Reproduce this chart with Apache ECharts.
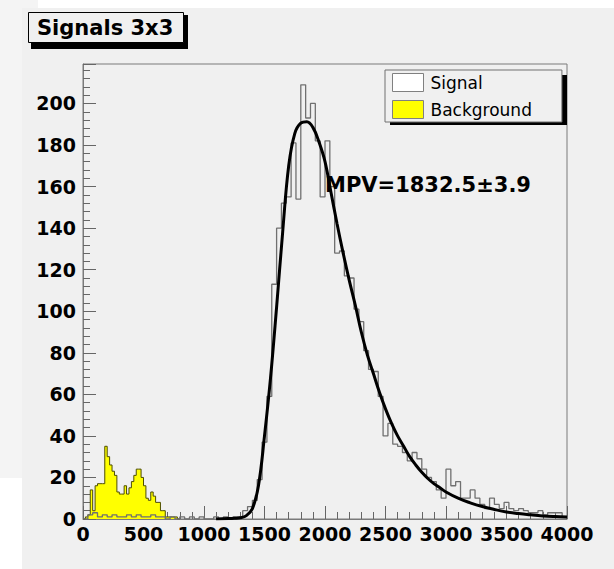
<!DOCTYPE html>
<html>
<head>
<meta charset="utf-8">
<script src="https://cdn.jsdelivr.net/npm/echarts@6/dist/echarts.min.js"></script>
<style>
  html, body { margin: 0; padding: 0; background: #ffffff; }
  #wrap { position: relative; width: 614px; height: 569px; overflow: hidden; background: #ffffff; }
  #leftStrip { position: absolute; left: 0; top: 0; width: 22px; height: 478px; background: #f4f4f4; }
  #topLeft { position: absolute; left: 0; top: 0; width: 38px; height: 8px; background: #f4f4f4; }
  #panel { position: absolute; left: 22px; top: 8px; width: 592px; height: 561px; background: #f0f0f0; }
  #chart { position: absolute; left: 0; top: 0; width: 614px; height: 569px; }
</style>
</head>
<body>
<div id="wrap">
  <div id="leftStrip"></div>
  <div id="topLeft"></div>
  <div id="panel"></div>
  <div id="chart"></div>
</div>
<script>
// ---- Data ----
const titleText = 'Signals 3x3';
const mpvText = 'MPV=1832.5\u00b13.9';
const seriesNames = ['Signal', 'Background'];

// Signal histogram: 40-unit bins starting at 0
const signalBinWidth = 40;
const signalCounts = [
  0, 2, 3, 1, 2, 1, 2, 1, 1, 2,
  1, 2, 1, 1, 2, 1, 1, 0, 1, 0,
  1, 0, 1, 0, 1, 0, 0, 1, 0, 1,
  0, 1, 1, 4, 6, 9, 19, 37, 59, 113,
  140, 152, 155, 181, 154, 209, 193, 200, 182, 155,
  182, 160, 128, 129, 117, 116, 101, 95, 81, 72,
  71, 59, 40, 46, 36, 35, 32, 28, 32, 29,
  24, 20, 18, 14, 10, 24, 16, 18, 10, 10,
  14, 10, 7, 5, 10, 7, 5, 8, 5, 4,
  5, 4, 3, 3, 4, 2, 3, 3, 3, 1
];

// Background histogram: 20-unit bins starting at 0
const bgBinWidth = 20;
const bgCounts = [
  0, 1, 2, 14, 4, 16, 17, 17, 17, 35,
  30, 26, 23, 21, 13, 12, 12, 16, 12, 15,
  18, 21, 24, 24, 20, 16, 10, 9, 13, 11,
  8, 8, 4, 4, 1, 1, 1, 1, 1, 0
];

// Fit curve points (x, y)
const fitX = [1100, 1150, 1200, 1250, 1300, 1350, 1400, 1450, 1500, 1550,
              1600, 1650, 1700, 1750, 1800, 1850, 1900, 1950, 2000, 2050,
              2100, 2150, 2200, 2250, 2300, 2350, 2400, 2450, 2500, 2550,
              2600, 2650, 2700, 2750, 2800, 2850, 2900, 2950, 3000, 3100,
              3200, 3300, 3400, 3500, 3600, 3700, 3800, 3900, 4000];
const fitY = [0.05, 0.1, 0.2, 0.35, 0.6, 1.6, 5, 16, 40, 68,
              102, 138, 170, 185.5, 190.5, 191.2, 188.5, 181.5, 172, 157,
              142, 128, 115, 103, 90, 79, 70, 61, 53, 46,
              40, 35, 30, 26, 22.5, 19.5, 17, 15, 13, 10,
              7.8, 6, 4.6, 3.4, 2.6, 2, 1.5, 1.2, 1];

// Axis settings
const xMin = 0, xMax = 4000, xStep = 500;
const yMin = 0, yMax = 219, yStep = 20;

// ---- Build step data ----
function stepData(counts, w) {
  const d = counts.map((v, i) => [i * w, v]);
  d.push([counts.length * w, counts[counts.length - 1]]);
  d.push([counts.length * w, 0]);
  return d;
}
const signalData = stepData(signalCounts, signalBinWidth);
const bgData = stepData(bgCounts, bgBinWidth);
const fitData = fitX.map((x, i) => [x, fitY[i]]);

const FONT = 'DejaVu Sans';
const chart = echarts.init(document.getElementById('chart'), null, { renderer: 'svg', width: 614, height: 569 });

const option = {
  backgroundColor: 'transparent',
  animation: false,
  title: {
    text: titleText,
    left: 28, top: 12,
    padding: [5, 10, 5, 9],
    backgroundColor: '#f0f0f0',
    borderColor: '#000', borderWidth: 1,
    textStyle: { fontFamily: FONT, fontWeight: 'bold', fontSize: 21, color: '#000' }
  },
  legend: {
    orient: 'vertical',
    left: 385, top: 70,
    padding: [3, 30, 3, 7],
    itemWidth: 31, itemHeight: 18, itemGap: 8,
    backgroundColor: '#f0f0f0',
    borderColor: '#707070', borderWidth: 1,
    selectedMode: false,
    textStyle: { fontFamily: FONT, fontSize: 17, color: '#000', padding: [0, 0, 0, 2] },
    data: [
      { name: seriesNames[0], icon: 'rect', itemStyle: { color: '#ffffff', borderColor: '#808080', borderWidth: 1 } },
      { name: seriesNames[1], icon: 'rect', itemStyle: { color: '#ffff00', borderColor: '#808080', borderWidth: 1 } }
    ]
  },
  grid: {
    left: 83, top: 64, width: 484, height: 455,
    show: true, borderColor: '#7a7a7a', borderWidth: 1, backgroundColor: 'transparent'
  },
  xAxis: {
    type: 'value', min: xMin, max: xMax, interval: xStep,
    axisLine: { show: true, lineStyle: { color: '#7a7a7a', width: 1 } },
    axisTick: { show: true, inside: true, length: 13, lineStyle: { color: '#666' } },
    minorTick: { show: true, splitNumber: 5, length: 7, lineStyle: { color: '#666' } },
    splitLine: { show: false },
    axisLabel: { fontFamily: FONT, fontWeight: 'bold', fontSize: 19, color: '#000', margin: 5,
                 formatter: v => String(v) }
  },
  yAxis: {
    type: 'value', min: yMin, max: yMax, interval: yStep,
    axisLine: { show: true, lineStyle: { color: '#7a7a7a', width: 1 } },
    axisTick: { show: true, inside: true, length: 13, lineStyle: { color: '#666' } },
    minorTick: { show: true, splitNumber: 5, length: 7, lineStyle: { color: '#666' } },
    splitLine: { show: false },
    axisLabel: { fontFamily: FONT, fontWeight: 'bold', fontSize: 19, color: '#000', margin: 7, showMaxLabel: false,
                 formatter: v => String(v) }
  },
  graphic: [
    { type: 'rect', z: 1, shape: { x: 31, y: 15, width: 157, height: 34 }, style: { fill: '#000' } },
    { type: 'rect', z: 1, shape: { x: 390, y: 75, width: 177, height: 50 }, style: { fill: '#000' } },
    { type: 'text', z: 10, x: 325, y: 185,
      style: { text: mpvText, fill: '#000', font: 'bold 21px "DejaVu Sans"', textVerticalAlign: 'middle' } }
  ],
  series: [
    {
      name: seriesNames[1], type: 'line', step: 'end', showSymbol: false, symbol: 'none', z: 2,
      data: bgData,
      lineStyle: { color: '#4d4d00', width: 1 },
      itemStyle: { color: '#ffff00' },
      areaStyle: { color: '#ffff00', opacity: 1 }
    },
    {
      name: seriesNames[0], type: 'line', step: 'end', showSymbol: false, symbol: 'none', z: 3,
      data: signalData,
      lineStyle: { color: '#707070', width: 1.3 },
      itemStyle: { color: '#ffffff' }
    },
    {
      name: 'fit', type: 'line', smooth: 0.4, showSymbol: false, symbol: 'none', z: 4,
      data: fitData,
      lineStyle: { color: '#000', width: 3 }
    }
  ]
};
chart.setOption(option);
</script>
</body>
</html>
